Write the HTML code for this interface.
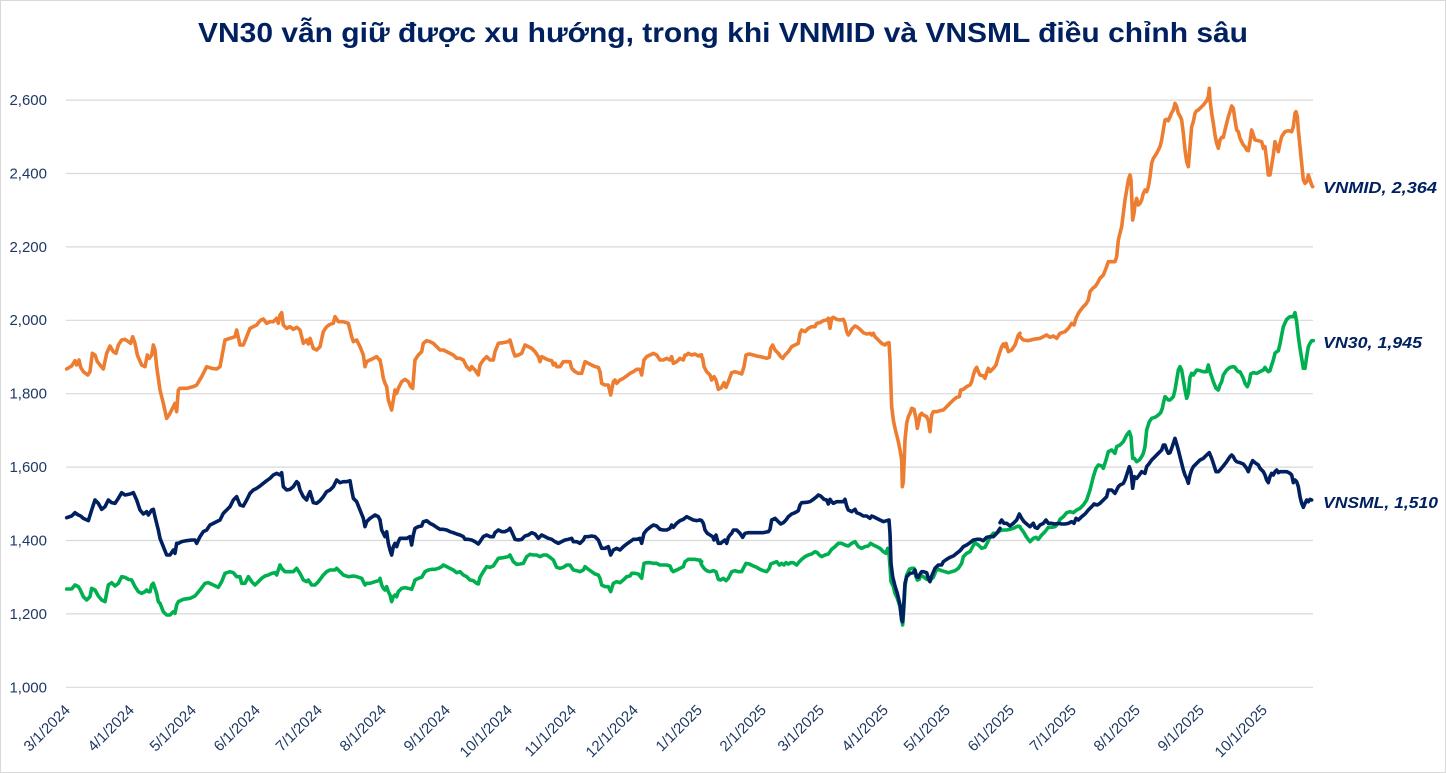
<!DOCTYPE html>
<html>
<head>
<meta charset="utf-8">
<style>
html,body{margin:0;padding:0;background:#fff;}
svg{display:block;}
.l{fill:none;stroke-width:3.6;stroke-linejoin:round;stroke-linecap:round;}
.o{stroke:#ED7D31;}
.g{stroke:#00B050;}
.n{stroke:#002060;}
.yl{font-family:"Liberation Sans",sans-serif;font-size:15px;fill:#1F3864;}
.xl{font-family:"Liberation Sans",sans-serif;font-size:15px;fill:#1F3864;}
.sl{font-family:"Liberation Sans",sans-serif;font-size:16px;font-weight:bold;font-style:italic;fill:#002060;}
</style>
</head>
<body>
<svg width="1446" height="773" viewBox="0 0 1446 773" xmlns="http://www.w3.org/2000/svg">
<rect x="0.5" y="0.5" width="1445" height="772" fill="#fff" stroke="#D9D9D9" stroke-width="1"/>
<text x="723" y="42" text-anchor="middle" textLength="1050" lengthAdjust="spacingAndGlyphs" style="font-family:'Liberation Sans',sans-serif;font-size:28px;font-weight:bold;fill:#002060;">VN30 vẫn giữ được xu hướng, trong khi VNMID và VNSML điều chỉnh sâu</text>

<g stroke="#D9D9D9" stroke-width="1.2">
<line x1="66" y1="687.3" x2="1313" y2="687.3"/>
<line x1="66" y1="613.9" x2="1313" y2="613.9"/>
<line x1="66" y1="540.5" x2="1313" y2="540.5"/>
<line x1="66" y1="467.1" x2="1313" y2="467.1"/>
<line x1="66" y1="393.7" x2="1313" y2="393.7"/>
<line x1="66" y1="320.3" x2="1313" y2="320.3"/>
<line x1="66" y1="246.9" x2="1313" y2="246.9"/>
<line x1="66" y1="173.5" x2="1313" y2="173.5"/>
<line x1="66" y1="100.1" x2="1313" y2="100.1"/>
</g>
<g class="yl" text-anchor="end">
<text x="47" y="692.5">1,000</text>
<text x="47" y="619">1,200</text>
<text x="47" y="545.5">1,400</text>
<text x="47" y="472">1,600</text>
<text x="47" y="398.5">1,800</text>
<text x="47" y="325">2,000</text>
<text x="47" y="252">2,200</text>
<text x="47" y="178.5">2,400</text>
<text x="47" y="105">2,600</text>
</g>

<g class="xl" text-anchor="end">
<text transform="translate(71,711) rotate(-45)">3/1/2024</text>
<text transform="translate(135,711) rotate(-45)">4/1/2024</text>
<text transform="translate(197,711) rotate(-45)">5/1/2024</text>
<text transform="translate(261,711) rotate(-45)">6/1/2024</text>
<text transform="translate(323,711) rotate(-45)">7/1/2024</text>
<text transform="translate(387,711) rotate(-45)">8/1/2024</text>
<text transform="translate(451,711) rotate(-45)">9/1/2024</text>
<text transform="translate(513,711) rotate(-45)">10/1/2024</text>
<text transform="translate(577,711) rotate(-45)">11/1/2024</text>
<text transform="translate(639,711) rotate(-45)">12/1/2024</text>
<text transform="translate(703,711) rotate(-45)">1/1/2025</text>
<text transform="translate(767,711) rotate(-45)">2/1/2025</text>
<text transform="translate(825,711) rotate(-45)">3/1/2025</text>
<text transform="translate(889,711) rotate(-45)">4/1/2025</text>
<text transform="translate(951,711) rotate(-45)">5/1/2025</text>
<text transform="translate(1015,711) rotate(-45)">6/1/2025</text>
<text transform="translate(1077,711) rotate(-45)">7/1/2025</text>
<text transform="translate(1141,711) rotate(-45)">8/1/2025</text>
<text transform="translate(1205,711) rotate(-45)">9/1/2025</text>
<text transform="translate(1268,711) rotate(-45)">10/1/2025</text>
</g>

<!-- ORANGE VNMID -->
<g transform="translate(60,290) scale(0.333333)">
<polyline class="l o" vector-effect="non-scaling-stroke" points="20,237 35,228 45,212 50,225 57,210 62,232 70,245 83,255 90,245 97,190 105,195 112,215 120,225 130,237 140,190 150,168 160,185 168,190 175,165 185,150 195,148 205,155 212,160 218,140 225,160 232,195 245,225 255,230 262,195 268,205 275,195 280,165 285,180 290,230 300,300 310,340 320,385 330,370 340,350 345,340 350,365 355,300 360,295 380,295 400,290 410,285 425,260 440,230 455,235 470,237 480,230 495,150 510,145 525,140 530,120 540,165 550,165 560,140 570,115 580,110 590,105 600,92 610,87 620,100 630,95 640,95 650,85 655,100 660,75 665,68 670,105 680,115 690,110 700,118 710,112 720,120 730,160 740,150 745,162 750,145 760,175 770,180 780,170 790,125 800,110 810,103 820,100 825,80 835,95 850,95 865,100 875,140 880,155 890,150 900,170 910,195 915,230 920,215 930,210 940,205 950,200 960,212"/>
</g>
<g transform="translate(380,290) scale(0.333333)">
<polyline class="l o" vector-effect="non-scaling-stroke" points="0,210 5,235 10,265 15,280 20,290 25,330 30,345 35,360 40,330 45,300 50,310 55,295 60,285 65,275 75,268 85,275 92,290 98,295 105,210 115,195 125,185 130,160 140,152 150,155 160,160 170,170 180,180 190,180 200,185 210,190 220,195 230,205 240,205 250,210 260,230 270,240 275,230 285,240 295,255 300,225 310,210 320,200 330,210 340,210 345,185 355,160 370,158 385,155 390,150 400,185 405,198 415,195 425,190 435,165 445,170 455,175 465,185 475,200 480,215 485,200 495,205 505,210 515,212 520,225 525,220 530,230 540,230 550,215 560,215 570,215 575,235 585,245 595,250 605,250 615,215 625,220 635,225 645,230 655,232 660,245 665,280 675,285 685,285 692,315 700,275 705,270 710,280 720,270 730,265 740,258 750,250 760,245 770,238 780,238 785,255 792,210 800,200 810,195 820,190 830,195 840,210 850,210 860,205 870,210 875,200 880,220 890,215 900,205 910,210 915,195 920,195 925,190 935,195 945,192 955,198 965,195"/>
</g>
<g transform="translate(700,300) scale(0.333333)">
<polyline class="l o" vector-effect="non-scaling-stroke" points="0,165 8,175 12,200 20,215 30,225 35,240 42,230 48,240 55,268 65,262 72,248 78,262 85,245 95,218 105,215 115,218 125,222 132,200 138,165 148,162 160,165 170,168 180,170 190,172 200,175 208,172 212,145 218,135 225,150 235,160 242,170 248,175 255,165 265,155 275,140 285,135 295,130 300,100 305,90 315,95 325,85 335,80 345,80 350,70 360,68 370,62 380,60 385,55 390,85 395,55 400,52 410,58 420,60 430,58 435,70 440,95 445,105 450,98 455,88 465,78 470,80 480,88 490,98 500,102 510,100 515,105 520,100 525,110 535,120 545,130 555,135 560,130 567,128 570,180 575,320 580,360 585,385 590,405 595,425 600,450 605,480 607,560 610,545 615,420 620,370 625,350 630,340 635,325 642,328 648,355 652,385 655,370 660,345 665,340 670,345 680,350 685,362 690,395 695,345 700,335 710,335 720,332 730,330 740,320 750,310 760,300 770,292 778,290 782,270 790,268 800,260 810,255 815,245 820,225 825,210 830,202 835,215 840,225 850,228 855,235 860,218 865,205 870,215 880,205 888,195 895,170 905,140 910,132 915,140 918,130 922,145 925,155 935,150 945,135 955,105 960,100"/>
</g>
<g transform="translate(1000,80) scale(0.333333)">
<polyline class="l o" vector-effect="non-scaling-stroke" points="60,770 70,780 85,782 100,778 120,775 130,770 140,765 150,772 160,768 170,775 180,760 195,755 205,745 215,730 222,735 228,715 235,700 242,690 250,680 258,672 265,660 270,635 278,625 285,620 292,610 300,595 305,590 310,585 318,565 325,545 335,545 345,545 350,530 355,480 360,460 365,440 370,400 375,360 380,330 385,300 390,285 393,300 398,420 402,400 405,375 410,355 415,375 420,370 425,360 430,340 435,330 440,335 445,320 450,290 455,250 460,235 470,220 480,200 485,180 490,150 495,120 500,118 505,122 510,110 515,98 520,90 525,70 530,80 535,100 540,108 545,120 550,160 555,210 560,245 565,260 570,200 575,140 580,125 585,100 590,92 595,90 600,85 610,75 620,62 625,50 628,25 630,60 635,100 640,130 645,165 650,190 655,205 660,180 665,172 670,172 675,150 680,130 685,110 690,95 695,78 700,85 705,120 710,150 715,155 720,175 725,185 730,195 735,200 740,210 745,212 750,185 755,150 760,165 765,180 775,182 785,185 790,205 795,200 800,240 805,285 810,285 815,255 820,225 825,185 830,200 835,215 840,190 845,170 855,155 865,152 875,155 880,140 885,100 888,95 892,110 895,150 900,200 905,250 910,300 915,310 920,305 925,285 930,300 935,315 938,320"/>
</g>

<!-- GREEN VN30 -->
<g transform="translate(60,290) scale(0.333333)">
<polyline class="l g" vector-effect="non-scaling-stroke" points="20,897 35,897 45,885 55,890 60,898 70,920 80,930 90,920 95,895 105,900 115,918 125,930 135,935 145,885 155,878 165,888 175,880 185,860 195,862 205,868 215,870 225,890 235,905 245,910 255,905 260,900 265,905 270,905 275,885 280,880 285,895 290,910 295,935 300,940 310,965 320,975 330,975 340,965 345,970 350,945 355,935 370,928 390,925 405,918 420,900 435,880 445,878 460,885 475,892 485,875 495,850 510,845 520,848 530,860 540,860 545,880 555,880 565,860 575,875 585,885 595,875 605,865 615,858 625,855 635,850 645,848 650,855 660,825 665,835 675,845 685,845 700,845 710,835 720,850 730,870 740,875 745,870 755,885 765,885 775,875 790,855 800,845 810,840 825,840 830,835 840,845 850,855 865,860 880,858 890,860 905,865 915,885 920,880 930,880 945,875 955,872 960,870"/>
</g>
<g transform="translate(380,290) scale(0.333333)">
<polyline class="l g" vector-effect="non-scaling-stroke" points="0,865 5,885 10,895 15,900 20,890 25,905 30,915 35,935 40,920 45,915 50,920 55,905 65,895 75,893 85,895 95,898 100,885 105,870 115,865 125,862 135,845 145,840 155,838 165,838 175,835 185,830 190,825 200,830 210,835 220,840 230,848 240,845 250,855 260,860 270,870 280,872 290,880 295,882 300,862 310,845 320,830 330,832 340,828 345,820 355,805 370,803 385,800 390,795 400,815 410,823 420,822 430,820 440,800 450,793 460,795 470,795 480,800 490,795 500,795 510,802 520,810 530,832 540,835 550,832 560,825 570,825 580,840 590,842 600,845 610,840 615,830 625,838 635,845 645,852 655,855 660,865 665,885 675,890 685,890 692,905 700,880 710,875 720,878 730,870 740,860 750,858 755,850 765,850 775,852 785,865 792,820 800,818 810,818 820,820 830,820 840,825 850,825 860,825 870,828 875,840 880,845 890,840 900,835 910,830 915,815 925,808 935,808 945,808 955,810 965,815"/>
</g>
<g transform="translate(700,300) scale(0.333333)">
<polyline class="l g" vector-effect="non-scaling-stroke" points="0,780 5,795 12,805 20,812 30,815 40,812 48,815 55,838 62,840 70,835 78,842 85,835 90,825 95,815 105,812 115,815 125,815 130,805 138,790 148,792 160,798 170,802 180,808 190,812 200,815 208,805 212,792 222,788 230,785 238,795 245,790 252,795 258,788 265,792 272,788 280,788 290,795 298,785 305,778 315,770 325,765 335,762 345,755 352,758 358,765 365,770 375,765 385,762 395,748 405,740 415,730 425,730 435,735 445,738 455,730 465,725 475,740 485,745 495,740 505,738 512,730 520,735 530,740 540,745 550,755 558,760 563,745 567,760 570,800 573,845 580,860 585,880 592,895 600,920 605,960 608,975 612,920 615,860 620,825 628,808 635,805 642,805 648,830 652,840 658,838 662,825 670,830 680,838 690,840 700,832 708,812 715,808 725,812 735,815 745,818 755,815 765,812 775,805 785,790 790,770 800,760 810,755 818,740 825,728 835,735 845,745 855,742 862,728 870,712 880,700 890,700 900,692 910,690 920,690 930,688 940,685 950,680 955,678 960,680"/>
</g>
<g transform="translate(1000,290) scale(0.333333)">
<polyline class="l g" vector-effect="non-scaling-stroke" points="60,712 70,725 80,742 90,755 100,745 108,742 115,748 125,735 135,725 145,712 155,712 165,710 175,700 180,688 190,680 200,668 210,665 220,668 230,660 240,655 250,645 260,630 270,600 280,560 288,535 295,525 305,528 310,535 318,510 325,485 335,480 345,490 350,470 360,465 370,455 375,445 380,435 388,425 393,440 398,505 403,505 410,515 418,510 425,500 430,490 435,470 440,420 448,395 455,385 465,382 475,375 482,368 487,355 490,340 495,320 500,325 505,330 510,330 520,320 525,300 530,270 535,240 540,230 545,240 550,270 555,300 560,325 565,310 570,262 575,250 580,255 590,240 600,242 610,245 620,245 625,225 630,245 635,260 640,275 648,295 655,300 660,285 665,275 670,255 680,240 690,232 700,230 705,232 710,240 715,245 720,245 725,255 730,265 735,280 742,290 748,275 752,252 760,248 770,250 780,245 790,240 795,232 800,240 805,245 810,242 815,225 820,210 825,190 830,185 835,182 840,162 845,135 850,110 860,88 870,80 880,80 885,68 890,95 895,140 900,175 905,205 910,235 915,235 920,200 925,170 930,160 935,152 940,152"/>
</g>

<!-- NAVY VNSML -->
<g transform="translate(60,290) scale(0.333333)">
<polyline class="l n" vector-effect="non-scaling-stroke" points="20,683 35,678 45,668 55,675 62,678 70,685 85,692 95,660 105,630 115,640 125,658 135,650 145,630 155,638 165,640 175,625 185,608 195,615 210,612 220,608 230,630 240,660 250,672 260,665 265,675 275,660 280,658 285,680 295,720 300,745 310,770 320,795 330,795 340,780 345,790 350,760 355,760 365,755 380,752 395,750 405,750 410,760 420,740 430,725 440,720 450,705 460,700 470,695 480,690 490,670 500,660 510,650 520,630 530,620 540,645 550,648 560,630 570,610 580,600 590,595 600,588 610,580 620,572 630,565 640,555 650,550 660,555 665,548 670,590 680,600 690,598 700,590 710,575 715,580 720,600 730,620 740,630 745,615 750,605 760,638 770,640 780,632 790,620 800,605 810,600 820,590 830,570 840,578 850,575 860,575 870,572 875,600 880,625 890,635 900,660 910,685 915,710 920,695 930,685 945,675 955,680 960,690"/>
</g>
<g transform="translate(380,290) scale(0.333333)">
<polyline class="l n" vector-effect="non-scaling-stroke" points="0,690 5,720 10,730 15,740 20,725 25,760 30,780 35,795 40,770 45,760 50,770 55,755 60,745 70,745 80,745 90,740 95,765 100,735 105,715 115,710 125,708 130,695 140,692 150,700 160,705 170,712 180,718 190,718 200,720 210,725 220,728 230,732 240,735 250,740 255,748 265,748 275,750 285,755 295,762 300,755 310,740 320,735 330,740 340,740 345,728 355,720 365,725 375,725 385,720 390,715 395,725 405,748 415,750 425,748 435,738 445,735 455,728 465,732 475,745 485,735 495,740 505,745 515,748 525,755 535,760 545,755 555,750 565,748 575,745 580,755 590,755 600,760 610,750 615,740 625,740 635,738 645,740 655,750 665,775 675,775 685,770 692,795 700,780 710,775 720,780 730,770 740,762 750,755 760,748 770,748 780,745 785,760 792,730 800,720 810,712 820,705 830,708 840,718 850,720 860,720 870,715 875,705 880,712 890,700 900,692 910,688 920,680 930,685 940,690 950,692 960,690 965,692"/>
</g>
<g transform="translate(700,300) scale(0.333333)">
<polyline class="l n" vector-effect="non-scaling-stroke" points="0,660 5,662 10,670 15,690 22,700 30,705 38,710 42,720 48,705 55,730 62,730 68,725 75,720 80,730 85,712 90,705 95,700 100,690 110,690 120,700 128,712 135,700 145,698 160,698 175,698 190,698 205,695 210,688 215,660 225,655 235,665 242,672 250,668 258,660 265,650 275,642 285,638 295,632 300,615 305,608 320,607 330,605 340,598 350,590 355,585 362,588 372,598 380,600 385,612 390,598 395,605 400,610 410,605 420,605 430,605 435,598 440,618 445,630 455,635 465,628 470,638 480,642 490,648 500,648 510,655 515,648 520,650 530,655 540,660 550,665 560,662 567,660 570,700 573,790 578,830 585,858 592,880 600,915 605,960 608,965 612,900 615,850 620,830 630,820 640,818 645,810 650,830 655,832 660,822 665,815 670,815 680,818 685,835 690,845 695,828 705,805 715,795 725,795 730,785 740,778 750,772 760,768 770,760 780,752 790,740 800,735 810,728 820,720 830,718 840,718 850,722 860,712 870,710 880,710 890,700 900,685"/>
</g>
<g transform="translate(1000,290) scale(0.333333)">
<polyline class="l n" vector-effect="non-scaling-stroke" points="0,698 5,690 12,700 20,700 30,708 40,700 50,690 58,672 65,685 72,695 80,702 90,710 100,700 105,712 112,715 120,705 130,700 138,690 145,700 155,700 165,702 175,700 185,702 195,702 205,700 215,695 222,700 228,685 235,690 245,680 255,672 265,660 275,650 282,642 292,645 300,640 310,630 320,620 325,600 335,600 345,610 355,590 360,585 370,580 375,570 380,555 388,530 393,545 398,595 403,560 410,565 418,555 425,545 435,550 440,530 448,520 455,510 465,500 475,490 485,480 490,465 495,465 500,480 505,490 510,488 515,475 520,460 525,445 530,462 535,480 540,500 545,520 550,540 555,555 560,565 565,580 570,555 575,540 580,530 590,520 600,510 610,505 620,495 628,488 635,505 640,520 648,545 655,545 660,540 670,528 680,515 690,500 695,495 700,500 705,510 710,515 720,518 730,522 740,535 745,545 752,525 758,512 765,518 775,525 780,535 790,545 795,555 800,570 805,578 810,560 815,550 820,555 825,545 830,540 835,548 840,545 850,545 860,545 870,550 875,555 880,578 885,570 890,575 895,590 900,620 905,640 910,652 915,640 920,630 925,635 930,628 935,630"/>
</g>

<text class="sl" x="1323" y="193" textLength="114" lengthAdjust="spacingAndGlyphs">VNMID, 2,364</text>
<text class="sl" x="1323" y="348" textLength="99" lengthAdjust="spacingAndGlyphs">VN30, 1,945</text>
<text class="sl" x="1323" y="508" textLength="115" lengthAdjust="spacingAndGlyphs">VNSML, 1,510</text>
</svg>
</body>
</html>
